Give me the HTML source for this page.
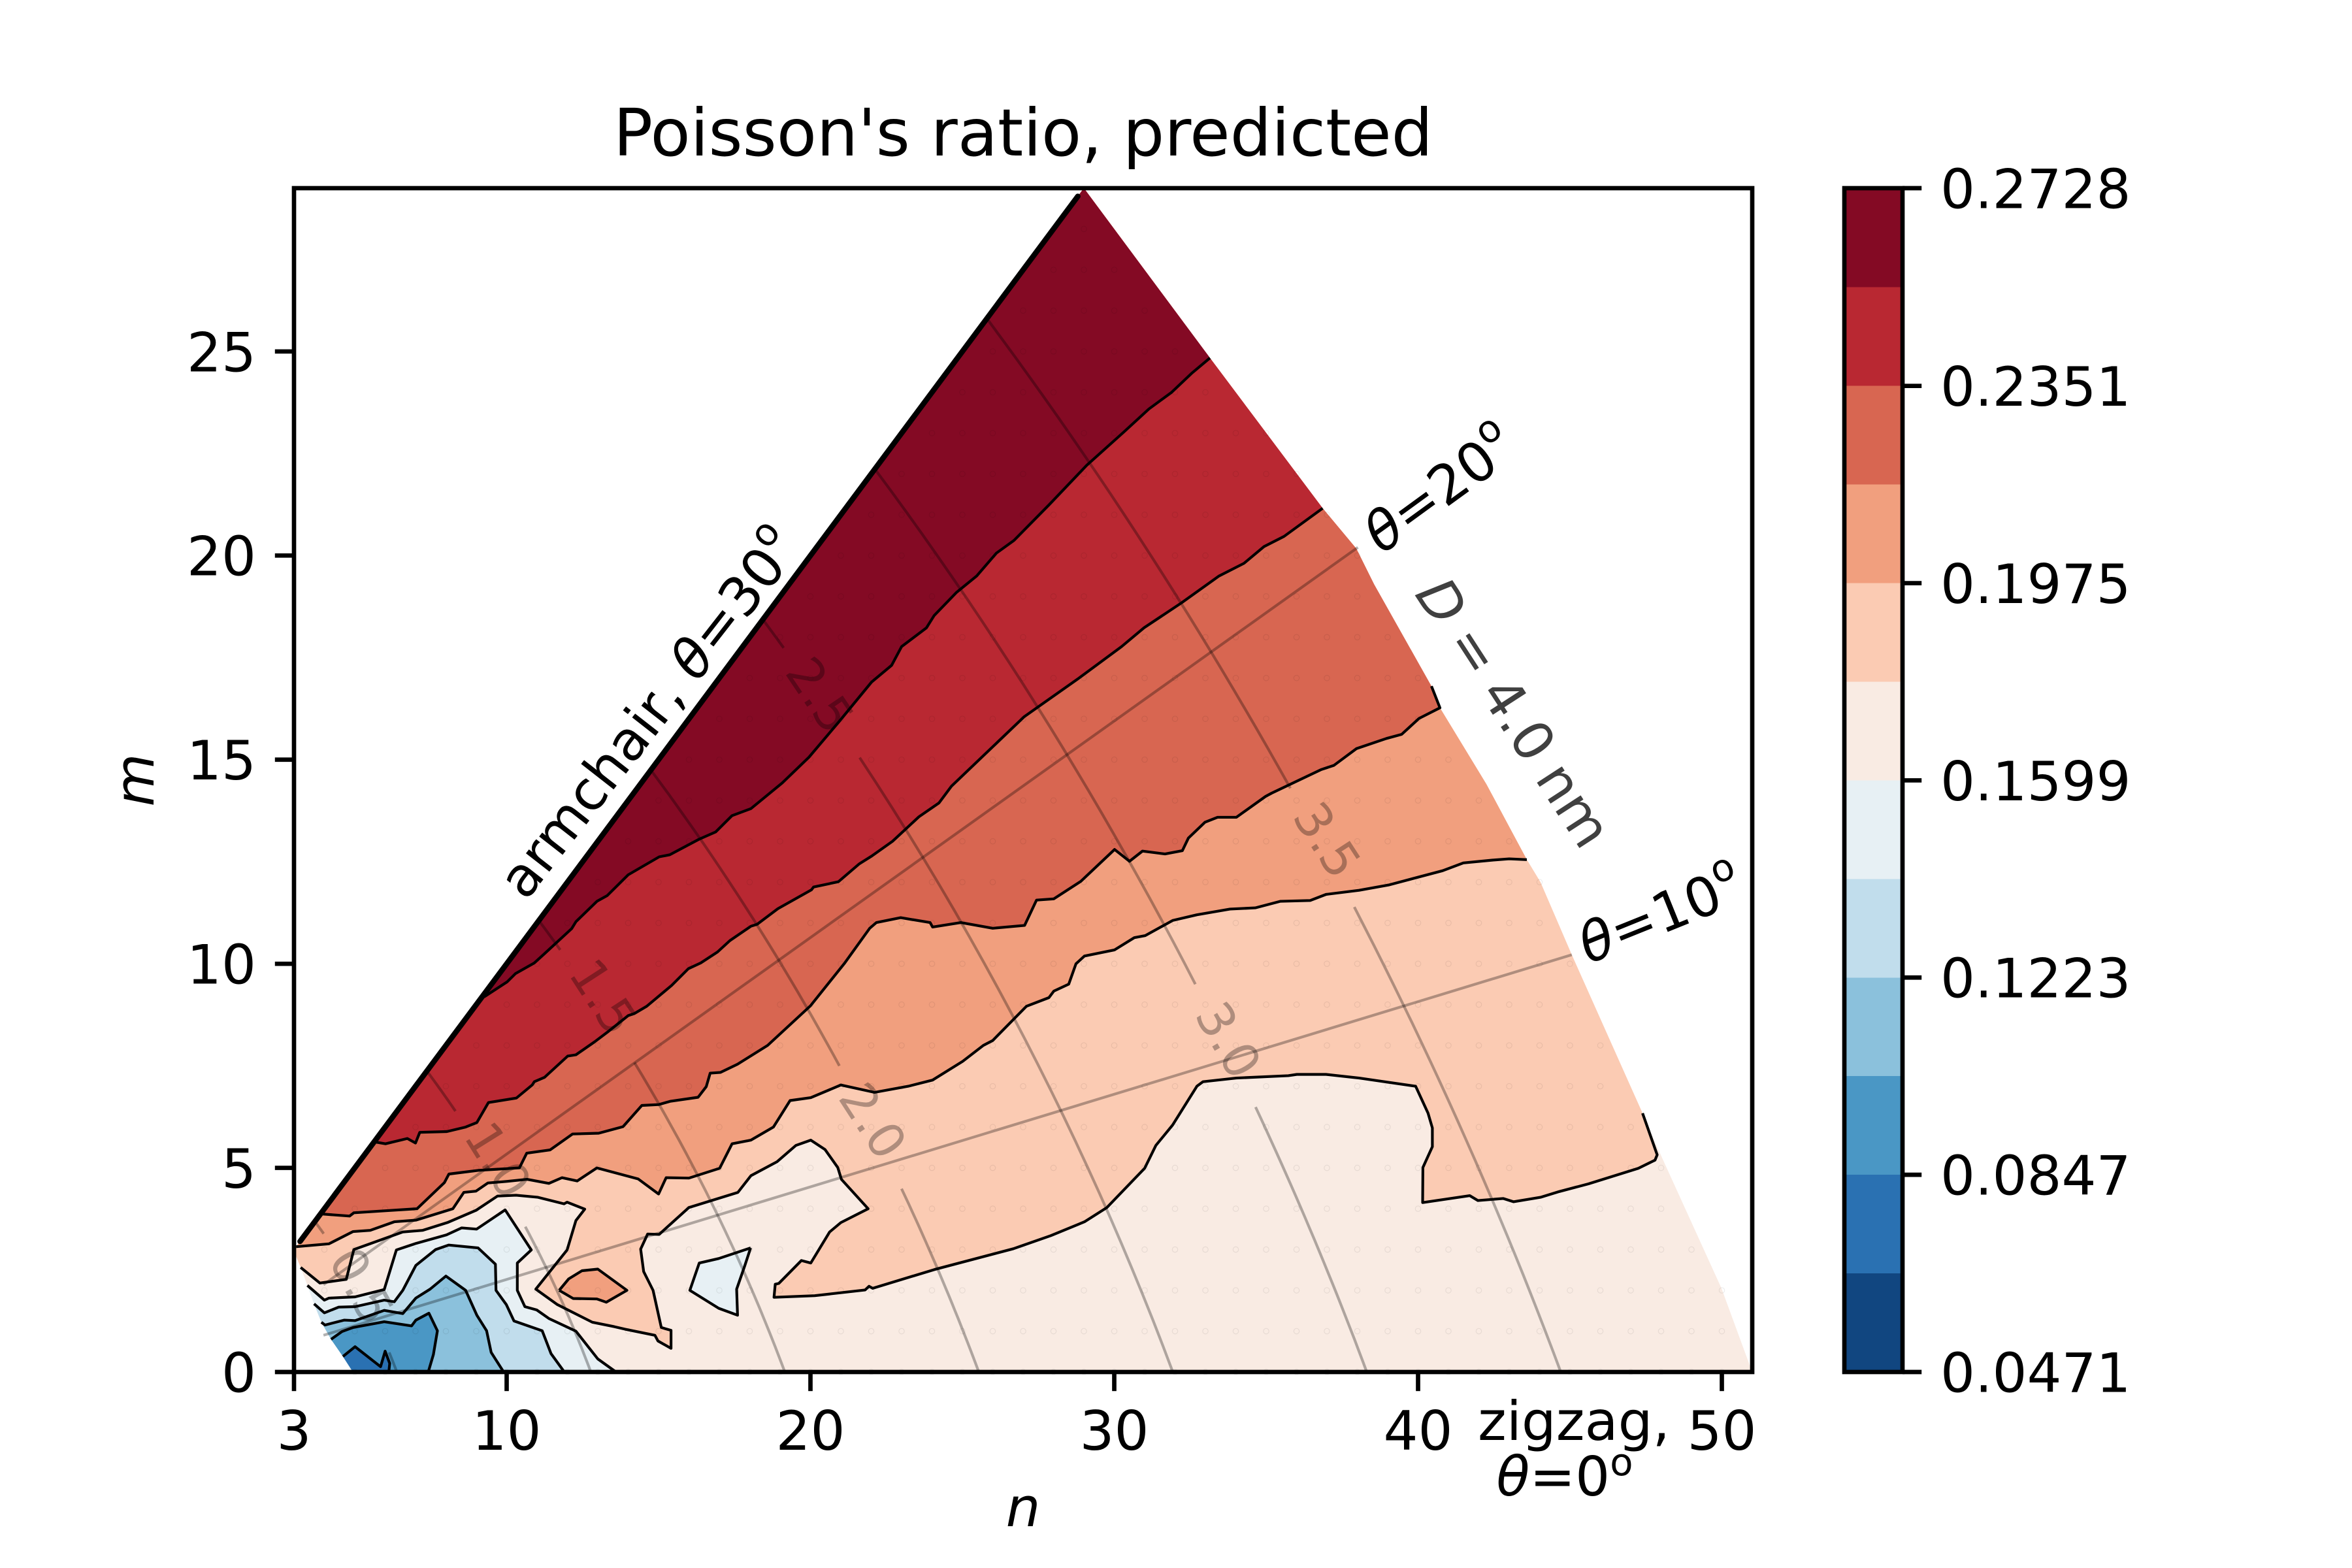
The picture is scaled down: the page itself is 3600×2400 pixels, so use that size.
<!DOCTYPE html>
<html lang="en">
<head>
<meta charset="utf-8">
<title>Poisson's ratio, predicted</title>
<style>
html,body{margin:0;padding:0;background:#fff;}
svg{display:block;}
text{font-family:"DejaVu Sans","Liberation Sans",sans-serif;fill:#000;}
.tick{font-size:83.33px;}
.it{font-style:italic;}
</style>
</head>
<body>
<svg id="chart" xmlns="http://www.w3.org/2000/svg" width="3600" height="2400" viewBox="0 0 3600 2400">
  <rect x="0" y="0" width="3600" height="2400" fill="#ffffff"/>
  <defs><clipPath id="hullClip"><path id="hullClipPath" d=""/></clipPath></defs>
  <g id="fills" clip-path="url(#hullClip)"></g>
  <g id="lines"></g>
  <g id="grid"></g>
  <g id="lattice"></g>
  <g id="labels"></g>
  <g id="axes"></g>
  <g id="colorbar"></g>

  <text x="1566" y="238" font-size="100" text-anchor="middle">Poisson's ratio, predicted</text>
  <text class="it" x="1566" y="2336" font-size="83.33" text-anchor="middle">n</text>
  <text class="it" transform="translate(235,1194) rotate(-90)" font-size="83.33" text-anchor="middle">m</text>

  <text transform="translate(994,1092) rotate(-52)" font-size="83.33" text-anchor="middle" dominant-baseline="central">armchair, <tspan class="it">θ</tspan>=30<tspan font-size="58" dy="-31">o</tspan></text>
  <text transform="translate(2204,749) rotate(-36)" font-size="83.33" text-anchor="middle" dominant-baseline="central"><tspan class="it">θ</tspan>=20<tspan font-size="58" dy="-31">o</tspan></text>
  <text transform="translate(2542,1400) rotate(-22)" font-size="83.33" text-anchor="middle" dominant-baseline="central"><tspan class="it">θ</tspan>=10<tspan font-size="58" dy="-31">o</tspan></text>
  <text transform="translate(2317,1091) rotate(57)" font-size="83.33" word-spacing="-3" text-anchor="middle" dominant-baseline="central" style="fill:rgba(0,0,0,0.75)"><tspan class="it" style="fill:rgba(0,0,0,0.75)">D</tspan> = 4.0 nm</text>
  <text x="2409" y="2204" font-size="83.33" text-anchor="middle">zigzag,</text>
  <text x="2395" y="2289" font-size="83.33" text-anchor="middle"><tspan class="it">θ</tspan>=0<tspan font-size="58" dy="-31">o</tspan></text>
</svg>

<script>
// ---------- data (n, m lattice units) ----------
const xTicks = [3, 10, 20, 30, 40, 50];
const yTicks = [0, 5, 10, 15, 20, 25];
const colorbarTicks = ['0.0471', '0.0847', '0.1223', '0.1599', '0.1975', '0.2351', '0.2728'];
const levels = [0.0471, 0.0659, 0.0847, 0.1035, 0.1223, 0.1411, 0.1599, 0.1787, 0.1975, 0.2163, 0.2351, 0.2539, 0.2728];

const hullBoundary = [[29,29],[33.15,24.84],[36.86,21.16],[37.97,20.17],[38.55,19.3],[40.44,16.8],[40.72,16.27],[42.25,14.4],[43.58,12.55],[44.03,12.0],[45.06,10.22],[47.39,6.34],[47.8,5.63],[49.99,2.05],[51,0],[4.94,0],[4.61,0.38],[4.22,0.8],[3.9,1.22],[3.66,1.67],[3.44,2.12],[3.22,2.56],[3.07,2.83],[3.05,3.05]];

const contour2539 = [[9.26,9.19],[10.02,9.56],[10.29,9.76],[10.91,10.02],[11.25,10.25],[12.14,10.86],[12.28,11.03],[12.97,11.53],[13.31,11.67],[14.0,12.18],[15.02,12.62],[15.37,12.67],[16.33,13.05],[16.88,13.23],[17.42,13.63],[18.04,13.80],[19.07,14.43],[19.95,15.06],[20.94,15.93],[22.01,16.90],[22.67,17.31],[23.0,17.77],[23.82,18.23],[24.07,18.53],[24.81,19.1],[25.47,19.5],[26.12,20.06],[26.70,20.37],[27.85,21.24],[29.09,22.21],[30.32,23.03],[31.14,23.59],[31.89,24.0],[32.54,24.46],[33.15,24.84]];

const contour2351 = [[5.70,5.63],[6.01,5.59],[6.73,5.72],[7.0,5.61],[7.14,5.87],[8.03,5.89],[8.65,6.0],[9.02,6.11],[9.40,6.6],[10.32,6.71],[10.84,7.03],[10.91,7.11],[11.25,7.22],[12.01,7.74],[12.28,7.77],[12.9,8.09],[13.31,8.32],[14.0,8.73],[14.2,8.78],[14.61,8.96],[15.43,9.47],[15.98,9.88],[16.39,10.02],[16.94,10.29],[17.35,10.57],[18.04,10.92],[18.25,10.97],[18.93,11.35],[20.03,11.81],[20.1,11.88],[20.92,12.01],[21.61,12.45],[22.02,12.64],[22.70,13.0],[23.57,13.60],[24.23,13.94],[24.64,14.35],[25.71,15.11],[27.03,16.05],[28.84,17.0],[30.24,17.77],[30.98,18.23],[32.21,18.84],[33.45,19.5],[34.27,19.81],[34.93,20.22],[35.59,20.47],[36.86,21.16]];

const contour2163 = [[3.93,3.87],[4.83,3.82],[4.97,3.90],[6.01,3.95],[7.05,4.0],[7.95,4.64],[8.10,4.85],[9.08,4.94],[10.42,5.0],[10.66,5.36],[11.43,5.44],[12.17,5.83],[13.03,5.85],[13.83,6.01],[14.45,6.53],[15.0,6.55],[15.38,6.63],[16.3,6.73],[16.57,6.99],[16.70,7.32],[17.04,7.34],[17.6,7.54],[18.59,8.0],[20.0,8.97],[21.13,10.02],[21.95,10.87],[22.17,11.01],[22.97,11.13],[23.94,11.01],[24.02,10.9],[24.95,11.01],[26.0,10.87],[27.05,10.94],[27.44,11.56],[28.01,11.59],[28.90,12.02],[30.01,12.80],[30.5,12.51],[30.93,12.76],[31.67,12.69],[32.24,12.77],[32.44,13.08],[32.99,13.47],[33.40,13.59],[34.02,13.59],[34.98,14.10],[35.18,14.18],[36.82,14.76],[37.23,14.86],[37.97,15.27],[38.96,15.52],[39.46,15.62],[40.03,16.01],[40.72,16.27],[40.44,16.80]];

const contour1975 = [[3.07,3.07],[4.15,3.14],[4.94,3.44],[5.51,3.47],[6.30,3.68],[7.01,3.72],[8.23,4.0],[8.59,4.40],[8.99,4.43],[9.38,4.63],[10.02,4.67],[10.67,4.72],[11.39,4.62],[11.82,4.76],[12.32,4.68],[12.97,5.0],[14.33,4.73],[15.0,4.36],[15.25,4.76],[16.0,4.75],[17.01,4.99],[17.42,5.59],[18.04,5.68],[18.78,6.0],[19.33,6.65],[20.01,6.72],[21.0,7.03],[22.11,6.85],[23.22,7.0],[24.02,7.15],[25.01,7.61],[25.69,8.0],[26.0,8.12],[27.11,8.96],[27.85,9.17],[28.01,9.33],[28.5,9.5],[28.74,10.0],[29.02,10.19],[30.01,10.34],[30.66,10.64],[31.02,10.69],[31.92,11.06],[32.72,11.2],[33.81,11.34],[34.64,11.37],[35.46,11.53],[36.45,11.55],[36.97,11.70],[38.06,11.80],[39.03,11.93],[40.81,12.28],[41.49,12.47],[42.45,12.54],[43.0,12.57],[43.58,12.55]];

const contour1787 = [[3.22,2.56],[3.85,2.18],[4.72,2.27],[4.97,3.0],[6.58,3.43],[7.23,3.47],[8.05,3.66],[8.99,3.96],[9.70,4.31],[10.31,4.33],[11.03,4.28],[11.89,4.12],[11.99,4.16],[12.57,3.99],[12.28,3.71],[11.99,2.99],[10.96,2.03],[11.67,1.65],[12.82,1.22],[13.54,1.11],[13.89,1.05],[14.88,0.90],[14.98,0.76],[15.41,0.58],[15.41,1.02],[15.09,1.09],[14.82,2.0],[14.51,2.46],[14.41,3.01],[14.64,3.38],[15.02,3.37],[16.0,4.03],[17.61,4.4],[18.04,4.81],[18.9,5.15],[19.52,5.55],[20.01,5.68],[20.48,5.45],[20.9,5.01],[21.02,4.72],[21.9,4.0],[21.0,3.66],[20.63,3.43],[20.01,2.67],[19.7,2.73],[18.96,2.17],[18.84,2.15],[18.8,1.83],[20.14,1.87],[21.8,2.01],[21.93,2.1],[22.05,2.05],[24.08,2.51],[26.68,3.02],[27.91,3.34],[29.02,3.68],[29.76,4.03],[31.0,4.99],[31.37,5.55],[31.92,6.05],[32.72,7.0],[32.92,7.11],[34.02,7.2],[35.73,7.26],[36.01,7.29],[36.97,7.29],[38.06,7.2],[39.92,7.0],[40.33,6.34],[40.47,5.98],[40.47,5.52],[40.16,5.01],[40.15,4.15],[41.7,4.32],[41.97,4.2],[42.8,4.25],[43.14,4.17],[44.03,4.28],[44.65,4.42],[45.61,4.61],[47.25,4.99],[47.8,5.19],[47.87,5.32],[47.39,6.34]];

const contour1599 = [[3.44,2.12],[4.0,1.76],[4.15,1.81],[5.01,1.84],[5.97,2.02],[6.37,2.99],[7.01,3.15],[8.02,3.36],[8.52,3.53],[9.01,3.50],[9.95,3.97],[10.81,2.99],[10.35,2.67],[10.35,2.0],[10.6,1.6],[10.99,1.52],[11.39,1.31],[12.28,1.0],[13.0,0.32],[13.6,0]];

const contour1411 = [[3.66,1.67],[4.0,1.45],[4.47,1.59],[5.01,1.6],[5.97,1.76],[6.3,1.72],[6.58,2.0],[7.01,2.61],[7.66,3.0],[8.09,3.11],[9.06,3.04],[9.63,2.64],[9.65,2.0],[9.99,1.65],[10.24,1.25],[11.17,1.01],[11.46,0.45],[11.9,0]];

const contour1223 = [[3.9,1.22],[4.02,1.15],[4.65,1.27],[5.01,1.26],[5.97,1.51],[6.58,1.43],[7.01,1.81],[7.48,2.03],[8.0,2.35],[8.65,2.0],[9.02,1.39],[9.34,1.01],[9.49,0.48],[9.9,0]];

const contour1035 = [[4.22,0.8],[4.58,0.99],[4.94,1.09],[5.97,1.23],[6.87,1.13],[7.01,1.27],[7.44,1.44],[7.72,1.01],[7.59,0.43],[7.42,0]];

const contour0847 = [[4.61,0.38],[5.01,0.62],[5.85,0.13],[6.0,0.51],[6.15,0.21],[6.12,0]];

const islandHigh = [[11.73,2.0],[12.04,2.28],[12.48,2.48],[13.0,2.52],[13.96,2.0],[13.28,1.71],[12.97,1.79],[12.19,1.8],[11.73,2.0]];
const islandLow = [[18.03,3.04],[16.98,2.78],[16.34,2.67],[16.03,2.0],[16.98,1.56],[17.6,1.39],[17.57,2.03],[17.84,2.61],[18.03,3.04]];

const armchairLine = [[3.2,3.2],[28.8,28.8]];
const theta10Line = [[3.97,0.9],[45.06,10.22]];
const theta20Line = [[3.97,2.14],[38.02,20.2]];

const diameters = [0.5, 1.0, 1.5, 2.0, 2.5, 3.0, 3.5];
const diameterSegments = [
  [[0, 0.48], [3.39, 3.69]],
  [[0, 3.56], [6.39, 7.37]],
  [[0, 7.58], [10.34, 11.06]],
  [[0, 4.49], [7.5, 14.75]],
  [[0, 15.05], [17.74, 18.43]],
  [[0, 6.49], [9.5, 22.12]],
  [[0, 11.39], [14.3, 25.8]]
];
const diameterLabelText = ['0.5', '1.5', '1.0', '2.0', '2.5', '3.0', '3.5'];
const diameterLabelAt = [[5.22,2.11],[13.17,9.19],[9.71,5.19],[22.05,6.15],[20.31,16.58],[33.75,8.13],[37.0,13.03]];
const diameterLabelAngle = [61, 57, 58, 57, 56, 60, 57];

// ---------- styles ----------
const bandColors = ['#114680','#2a71b2','#4a97c5','#8bc1dc','#c1ddec','#e7f0f4','#f9ebe3','#fbcbb3','#f19f7e','#d86651','#b92832','#840a24'];

// ---------- scales ----------
const AX = {l:450, r:2682, t:288, b:2100};
const CB = {l:2823, r:2912, t:288, b:2100};
function sx(n){ return AX.l + (n - 3) * (AX.r - AX.l) / 48; }
function sy(m){ return AX.b - m * (AX.b - AX.t) / 29; }
function cy(v){ return CB.b - (v - levels[0]) * (CB.b - CB.t) / (levels[levels.length - 1] - levels[0]); }
function pts(a){ return a.map(function(p){ return sx(p[0]).toFixed(1) + ' ' + sy(p[1]).toFixed(1); }).join(' L'); }

const NS = 'http://www.w3.org/2000/svg';
function mk(tag, parentId, attrs){
  const e = document.createElementNS(NS, tag);
  for (const k in attrs) e.setAttribute(k, attrs[k]);
  document.getElementById(parentId).appendChild(e);
  return e;
}

// hull
document.getElementById('hullClipPath').setAttribute('d', 'M' + pts(hullBoundary) + ' Z');
const hullFill = mk('path', 'fills', {d:'M' + pts(hullBoundary) + ' Z', fill:bandColors[6]});



function upper(c){
  const a = c[0], b = c[c.length - 1];
  return c.concat([[60, b[1]], [60, 40], [-5, 40], [-5, a[1]]]);
}
function lower(c){
  const a = c[0], b = c[c.length - 1];
  return c.concat([[b[0], -5], [-5, -5], [-5, a[1]]]);
}

// regions above each contour, lowest level first
const upperContours = [contour1787, contour1975, contour2163, contour2351, contour2539];
const upperBands = [7, 8, 9, 10, 11];
upperContours.forEach(function(c, i){
  const p = mk('path', 'fills', {d:'M' + pts(upper(c)) + ' Z', fill:bandColors[upperBands[i]]});
  
  
});
// regions below each contour, highest level first
const lowerContours = [contour1599, contour1411, contour1223, contour1035, contour0847];
const lowerBands = [5, 4, 3, 2, 1];
lowerContours.forEach(function(c, i){
  const p = mk('path', 'fills', {d:'M' + pts(lower(c)) + ' Z', fill:bandColors[lowerBands[i]]});
  
  
});
const islandHighFill = mk('path', 'fills', {d:'M' + pts(islandHigh) + ' Z', fill:bandColors[8]});


const islandLowFill = mk('path', 'fills', {d:'M' + pts(islandLow) + ' Z', fill:bandColors[5]});



// contour strokes
const allContours = upperContours.concat(lowerContours, [islandHigh, islandLow]);
allContours.forEach(function(c){
  const p = mk('path', 'lines', {d:'M' + pts(c), fill:'none', stroke:'#000', 'stroke-width':4.17, 'stroke-linejoin':'round'});
  
  
});

// armchair edge
const arm = mk('path', 'lines', {d:'M' + pts(armchairLine), fill:'none', stroke:'#000', 'stroke-width':8.33, 'stroke-linecap':'round'});



// constant-chirality lines
[theta10Line, theta20Line].forEach(function(l){
  const p = mk('path', 'grid', {d:'M' + pts(l), fill:'none', stroke:'rgba(0,0,0,0.3)', 'stroke-width':4.17});
  
  
});

// constant-diameter arcs
const BOND_UNIT = Math.PI / 0.246;
function nOnArc(d, m){
  const R = d * BOND_UNIT;
  return (-m + Math.sqrt(4 * R * R - 3 * m * m)) / 2;
}
diameters.forEach(function(d, i){
  diameterSegments[i].forEach(function(seg){
    const path = [];
    for (let k = 0; k <= 24; k++){
      const m = seg[0] + (seg[1] - seg[0]) * k / 24;
      path.push([nOnArc(d, m), m]);
    }
    const p = mk('path', 'grid', {d:'M' + pts(path), fill:'none', stroke:'rgba(0,0,0,0.3)', 'stroke-width':4.17});
    
    
  });
});

// diameter labels
diameterLabelText.forEach(function(s, i){
  const at = diameterLabelAt[i];
  const t = mk('text', 'labels', {transform:'translate(' + sx(at[0]) + ',' + sy(at[1]) + ') rotate(' + diameterLabelAngle[i] + ')', 'font-size':75, 'text-anchor':'middle', 'dominant-baseline':'central', style:'fill:rgba(0,0,0,0.3)'});
  t.textContent = s;
  
  
});

// lattice markers
function inHull(x, y){
  let inside = false;
  for (let i = 0, j = hullBoundary.length - 1; i < hullBoundary.length; j = i++){
    const a = hullBoundary[i], b = hullBoundary[j];
    if ((a[1] > y) !== (b[1] > y) && x < (b[0] - a[0]) * (y - a[1]) / (b[1] - a[1]) + a[0]) inside = !inside;
  }
  return inside;
}
for (let m = 0; m <= 29; m++){
  for (let n = Math.max(m, 3); n <= 51; n++){
    if (!inHull(n, m + 0.001)) continue;
    const c = mk('circle', 'lattice', {cx:sx(n), cy:sy(m), r:4.2, fill:'none', stroke:'rgba(0,0,0,0.07)', 'stroke-width':1.2});
    
    
  }
}

// axes frame
const frame = mk('rect', 'axes', {x:AX.l, y:AX.t, width:AX.r - AX.l, height:AX.b - AX.t, fill:'none', stroke:'#000', 'stroke-width':6.67, 'stroke-linejoin':'miter'});



xTicks.forEach(function(v){
  const x = sx(v);
  const tk = mk('line', 'axes', {x1:x, x2:x, y1:AX.b, y2:AX.b + 29.2, stroke:'#000', 'stroke-width':6.67});
  
  
  const t = mk('text', 'axes', {x:x, y:2219, 'class':'tick', 'text-anchor':'middle'});
  t.textContent = v;
  
  
});
yTicks.forEach(function(v){
  const y = sy(v);
  const tk = mk('line', 'axes', {x1:AX.l - 29.2, x2:AX.l, y1:y, y2:y, stroke:'#000', 'stroke-width':6.67});
  
  
  const t = mk('text', 'axes', {x:392, y:y + 30.4, 'class':'tick', 'text-anchor':'end'});
  t.textContent = v;
  
  
});

// colorbar
bandColors.forEach(function(col, i){
  const top = cy(levels[i + 1]), bot = cy(levels[i]);
  const r = mk('rect', 'colorbar', {x:CB.l, y:top, width:CB.r - CB.l, height:bot - top, fill:col, 'shape-rendering':'crispEdges'});
  
  
});
const cbFrame = mk('rect', 'colorbar', {x:CB.l, y:CB.t, width:CB.r - CB.l, height:CB.b - CB.t, fill:'none', stroke:'#000', 'stroke-width':6.67});


colorbarTicks.forEach(function(s){
  const y = cy(parseFloat(s));
  const tk = mk('line', 'colorbar', {x1:CB.r, x2:CB.r + 29.2, y1:y, y2:y, stroke:'#000', 'stroke-width':6.67});
  
  
  const t = mk('text', 'colorbar', {x:2970, y:y + 30.4, 'class':'tick'});
  t.textContent = s;
  
  
});
</script>
</body>
</html>
